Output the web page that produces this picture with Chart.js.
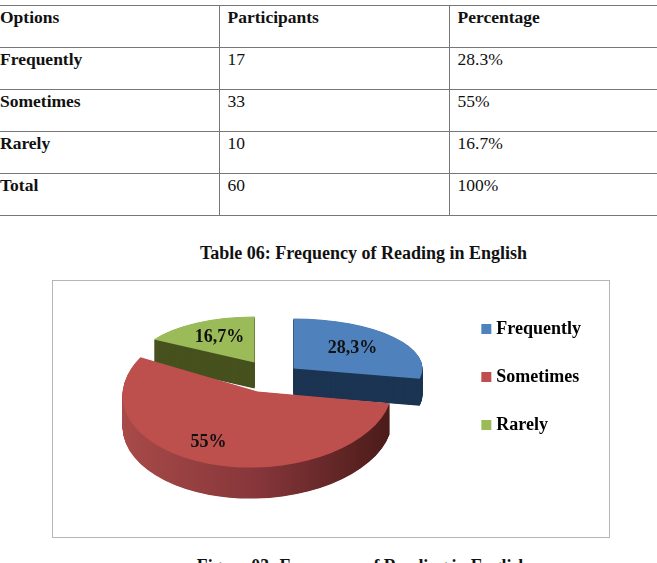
<!DOCTYPE html>
<html lang="en">
<head>
<meta charset="utf-8">
<title>Frequency of Reading in English</title>
<script src="https://cdn.jsdelivr.net/npm/chart.js@4"></script>
<style>
  html, body { margin: 0; height: 563px; overflow: hidden; background: #fff; }
  body { position: relative; font-family: "Liberation Serif", serif; color: #111; }
  #freqTable { position: absolute; left: 0; top: 5px; width: 657px; border-collapse: collapse; table-layout: fixed; font-size: 17.5px; }
  #freqTable td { height: 41px; padding: 0; vertical-align: top; line-height: 23px; border-top: 1.5px solid #777; border-bottom: 1.5px solid #777; }
  #freqTable td + td { border-left: 1.5px solid #777; padding-left: 8px; }
  #freqTable td:first-child, #freqTable tr:first-child td { font-weight: bold; }
  .caption { position: absolute; left: 0; width: 727px; text-align: center; font-weight: bold; font-size: 18px; white-space: nowrap; }
  #chartBox { position: absolute; left: 52px; top: 280px; width: 556px; height: 256px; border: 1.5px solid #b5b5b5; }
</style>
</head>
<body>
<table id="freqTable"><colgroup><col style="width:219px"><col style="width:230px"><col></colgroup><tbody id="tableBody"></tbody></table>
<div class="caption" style="top:243px">Table 06: Frequency of Reading in English</div>
<div id="chartBox"><canvas id="frequencyChart" width="556" height="256"></canvas></div>
<div class="caption" style="top:556px;font-size:17.8px;width:725px">Figure 03: Frequency of Reading in English</div>

<script>
const headers = ['Options', 'Participants', 'Percentage'];
const options = ['Frequently', 'Sometimes', 'Rarely'];
const participants = [17, 33, 10];
const tablePercent = ['28.3%', '55%', '16.7%'];
const totalRow = ['Total', '60', '100%'];
const piePercent = [28.3, 55, 16.7];

const topColors = ['#4f81bd', '#bd4f4d', '#9bbb59'];
const wallColors = ['#1c3553', null, '#47521f'];
const redWallStops = ['#a84a48', '#86363a', '#4a1b19'];

// where each slice sits on the tilted pie: tip, radii, shear, thickness, label position
const sliceFrames = [
  { x: 294, y: 369, rx: 129, ry: 50, shear: 0, depth: 27, lx: 59, ly: -20 },
  { x: 258, y: 392, rx: 135, ry: 76, shear: -0.03, depth: 31, lx: -49, ly: 50.5 },
  { x: 255, y: 363, rx: 116, ry: 46, shear: 0, depth: 26, lx: -35, ly: -25.5 }
];
const drawOrder = [2, 0, 1];
const baseRadius = 100;
const boxLeft = 53.5, boxTop = 281.5;

const rows = [headers].concat(options.map((name, i) => [name, participants[i], tablePercent[i]]), [totalRow]);
document.getElementById('tableBody').innerHTML = rows
  .map((row) => `<tr>${row.map((cell) => `<td>${cell}</td>`).join('')}</tr>`)
  .join('');

function drawArcWith(arc, ctx, fill) {
  const copy = Object.create(arc, { options: { value: { ...arc.options, backgroundColor: fill } } });
  Chart.elements.ArcElement.prototype.draw.call(copy, ctx);
}

// the pie is flattened and extruded here, arc by arc
const tiltedPie = {
  id: 'tiltedPie',
  beforeDatasetDraw(chart, args) {
    const { ctx } = chart;
    const arcs = args.meta.data;
    drawOrder.forEach((i) => {
      const arc = arcs[i];
      const f = sliceFrames[i];
      const place = (drop) => {
        ctx.save();
        ctx.translate(f.x - boxLeft, f.y - boxTop + drop);
        ctx.transform(1, f.shear, 0, 1, 0, 0);
        ctx.scale(f.rx / baseRadius, f.ry / baseRadius);
        ctx.translate(-arc.x, -arc.y);
      };
      for (let d = f.depth; d > 0; d -= 0.5) {
        place(d);
        let wall = wallColors[i];
        if (!wall) {
          wall = ctx.createLinearGradient(arc.x - baseRadius, 0, arc.x + baseRadius, 0);
          redWallStops.forEach((c, n) => wall.addColorStop(n / (redWallStops.length - 1), c));
        }
        drawArcWith(arc, ctx, wall);
        ctx.restore();
      }
      place(0);
      drawArcWith(arc, ctx, topColors[i]);
      ctx.restore();
    });
    ctx.save();
    ctx.font = 'bold 18px "Liberation Serif"';
    ctx.fillStyle = '#111';
    ctx.textAlign = 'center';
    ctx.textBaseline = 'middle';
    piePercent.forEach((v, i) => {
      const f = sliceFrames[i];
      ctx.fillText(String(v).replace('.', ',') + '%', f.x + f.lx - boxLeft, f.y + f.ly - boxTop);
    });
    ctx.restore();
    return false;
  }
};

new Chart(document.getElementById('frequencyChart'), {
  type: 'pie',
  data: {
    labels: options,
    datasets: [{ data: piePercent, backgroundColor: topColors, borderWidth: 0, radius: baseRadius }]
  },
  options: {
    responsive: false,
    animation: false,
    layout: { padding: { top: 9, right: 18 } },
    plugins: {
      tooltip: { enabled: false },
      legend: {
        position: 'right',
        align: 'start',
        labels: {
          font: { family: '"Liberation Serif"', size: 18, weight: 'bold' },
          color: '#111',
          boxWidth: 2,
          boxHeight: 2,
          padding: 30,
          generateLabels: () => options.map((text, i) => ({
            text, fillStyle: topColors[i], strokeStyle: topColors[i], lineWidth: 8, index: i
          }))
        }
      }
    }
  },
  plugins: [tiltedPie]
});
</script>
</body>
</html>
